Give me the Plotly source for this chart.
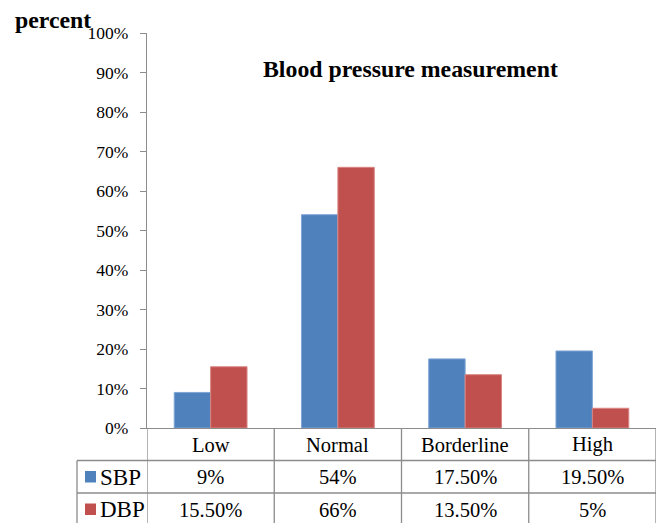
import plotly.graph_objects as go

categories = ["Low", "Normal", "Borderline", "High"]
series_names = ["SBP", "DBP"]
sbp = [9, 54, 17.5, 19.5]
dbp = [15.5, 66, 13.5, 5]
y_ticks = list(range(0, 101, 10))

colors = {"SBP": "#4F81BD", "DBP": "#C0504D"}
edge = {"SBP": "#7FA5D6", "DBP": "#D98583"}
FONT = "Liberation Serif"
GRID = "#8C8C8C"

def fmt(v):
    return f"{int(v)}%" if float(v).is_integer() else f"{v:.2f}%"

fig = go.Figure()
for name, vals in zip(series_names, [sbp, dbp]):
    fig.add_trace(go.Bar(x=categories, y=vals, name=name,
                         marker=dict(color=colors[name], line=dict(color=edge[name], width=1))))

# plot geometry (pixels) used for paper coordinates
L, R, T, B = 147, 2, 33, 95
W, H = 658, 523
pw, ph = W - L - R, H - T - B

def px_x(x):
    return (x - L) / pw

def px_y(y):
    return (H - B - y) / ph

LINE = dict(color=GRID, width=1.3)
shapes = []
for b in [-0.5, 0.5, 1.5, 2.5, 3.5]:
    shapes.append(dict(type="line", xref="x", yref="paper", x0=b, x1=b,
                       y0=px_y(428), y1=px_y(525), line=LINE))
shapes.append(dict(type="line", xref="paper", yref="paper", x0=px_x(77), x1=px_x(77),
                   y0=px_y(460.5), y1=px_y(525), line=LINE))
for yy in [460.5, 493]:
    shapes.append(dict(type="line", xref="paper", yref="paper", x0=px_x(77), x1=1,
                       y0=px_y(yy), y1=px_y(yy), line=LINE))

annotations = []
tfont = dict(family=FONT, size=20.5, color="black")
for c in categories:
    annotations.append(dict(x=c, y=px_y(444.5), xref="x", yref="paper", text=c,
                            showarrow=False, font=tfont, xanchor="center", yanchor="middle"))
key_rows = {"SBP": (477, 471, 482.5), "DBP": (509.5, 503.5, 515)}
for name, vals in zip(series_names, [sbp, dbp]):
    yy, k0, k1 = key_rows[name]
    for c, v in zip(categories, vals):
        annotations.append(dict(x=c, y=px_y(yy), xref="x", yref="paper", text=fmt(v),
                                showarrow=False, font=tfont, xanchor="center", yanchor="middle"))
    shapes.append(dict(type="rect", xref="paper", yref="paper",
                       x0=px_x(85), x1=px_x(96), y0=px_y(k0), y1=px_y(k1),
                       fillcolor=colors[name], line=dict(width=0)))
    annotations.append(dict(x=px_x(98), y=px_y(yy), xref="paper", yref="paper",
                            text=name, showarrow=False,
                            font=dict(family=FONT, size=23, color="black"),
                            xanchor="left", yanchor="middle"))

annotations.append(dict(x=px_x(410), y=px_y(68.5), xref="paper", yref="paper",
                        text="<b>Blood pressure measurement</b>", showarrow=False,
                        font=dict(family=FONT, size=23.8, color="black"),
                        xanchor="center", yanchor="middle"))
annotations.append(dict(x=px_x(13), y=px_y(20), xref="paper", yref="paper",
                        text="<b>percent</b>", showarrow=False,
                        font=dict(family=FONT, size=23.8, color="black"),
                        xanchor="left", yanchor="middle"))

fig.update_layout(
    template="none",
    width=W, height=H,
    margin=dict(l=L, r=R, t=T, b=B, autoexpand=False),
    paper_bgcolor="white", plot_bgcolor="white",
    barmode="group", bargap=0.428, bargroupgap=0,
    showlegend=False,
    font=dict(family=FONT, size=17.5, color="black"),
    shapes=shapes, annotations=annotations,
    xaxis=dict(showticklabels=False, showline=True, linecolor=GRID, linewidth=1.3,
               ticks="", showgrid=False, range=[-0.5, 3.5], automargin=False, zeroline=False),
    yaxis=dict(range=[0, 100], tickvals=y_ticks, ticktext=[f"{v}%" for v in y_ticks],
               showline=True, linecolor=GRID, linewidth=1.3, ticks="outside",
               ticklen=6, tickcolor=GRID, showgrid=False, zeroline=False, automargin=False,
               ticklabelstandoff=8, tickfont=dict(family=FONT, size=17.5, color="black")),
)

fig.write_html("out.html", config={"displayModeBar": False},
               post_script="document.body.style.margin='0';document.body.style.overflow='hidden';")
